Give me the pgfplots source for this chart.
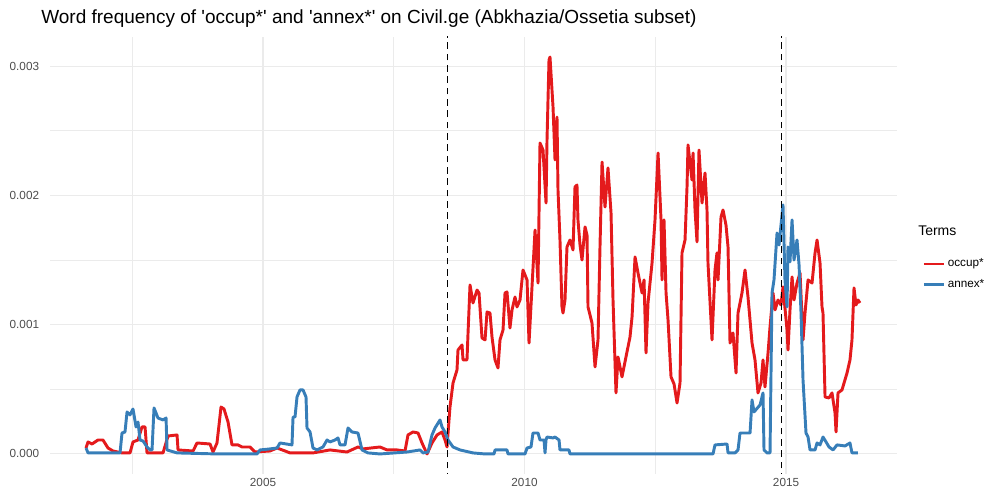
\documentclass[border=0pt]{standalone}
\usepackage{fontspec}
\setmainfont{Liberation Sans}[Ligatures=TeXOff]
\usepackage{pgfplots}
\pgfplotsset{compat=1.18}

\definecolor{occup}{HTML}{E41A1C}
\definecolor{annex}{HTML}{377EB8}
\definecolor{gridgrey}{HTML}{EBEBEB}
\definecolor{ticktext}{HTML}{4D4D4D}

\begin{document}
\begin{tikzpicture}[x=1pt,y=1pt]
% page = 999 x 495 px at 0.75pt per px, panel lower left at origin
\path[use as bounding box] (-37.5,-15.75) rectangle (711.75,355.5);
\begin{axis}[
    at={(0,0)}, anchor=south west,
    scale only axis,
    width=635.25pt, height=327.75pt,
    xmin=2000.927, xmax=2017.122,
    ymin=-0.000155, ymax=0.003225,
    xtick={2005,2010,2015},
    minor xtick={2002.5,2007.5,2012.5},
    ytick={0,0.001,0.002,0.003},
    minor ytick={0.0005,0.0015,0.0025},
    scaled y ticks=false,
    xticklabel style={/pgf/number format/1000 sep={}, inner sep=0pt, yshift=-3pt},
    yticklabel style={/pgf/number format/fixed, /pgf/number format/fixed zerofill,
        /pgf/number format/precision=3, inner sep=0pt, xshift=-8pt},
    /pgf/number format/assume math mode=true,
    ticklabel style={font=\fontsize{8.8}{10}\selectfont, text=ticktext},
    axis line style={draw=none},
    major tick length=0pt, minor tick length=0pt,
    grid=both,
    major grid style={gridgrey, line width=0.8pt},
    minor grid style={gridgrey, line width=0.45pt},
    clip=true,
    legend style={draw=none, fill=none, at={(rel axis cs:1.025,0.505)}, anchor=north west,
        font=\fontsize{8.8}{10}\selectfont, row sep=4pt,
        legend cell align=left},
    legend image code/.code={\draw[#1, line width=2pt] (0pt,0pt) -- (15pt,0pt);},
]
\addplot[occup, line width=2.2pt, line join=round] coordinates {
(2001.616,0.046e-3) (2001.654,0.093e-3) (2001.73,0.077e-3) (2001.845,0.108e-3) (2001.94,0.108e-3)
(2002.036,0.046e-3) (2002.132,0.023e-3) (2002.304,0.008e-3) (2002.457,0.008e-3) (2002.514,0.093e-3)
(2002.61,0.108e-3) (2002.686,0.209e-3) (2002.744,0.209e-3) (2002.782,0.008e-3) (2003.088,0.008e-3)
(2003.184,0.139e-3) (2003.356,0.147e-3) (2003.375,0.031e-3) (2003.662,0.023e-3) (2003.738,0.085e-3)
(2003.987,0.077e-3) (2004.044,0.015e-3) (2004.12,0.085e-3) (2004.197,0.363e-3) (2004.254,0.348e-3)
(2004.331,0.247e-3) (2004.407,0.07e-3) (2004.522,0.07e-3) (2004.598,0.054e-3) (2004.751,0.054e-3)
(2004.847,0.015e-3) (2005.134,0.023e-3) (2005.268,0.046e-3) (2005.421,0.023e-3) (2005.516,0.008e-3)
(2005.956,0.008e-3) (2006.281,0.031e-3) (2006.606,0.015e-3) (2006.816,0.054e-3) (2006.912,0.039e-3)
(2007.237,0.054e-3) (2007.371,0.031e-3) (2007.562,0.031e-3) (2007.715,0.023e-3) (2007.772,0.147e-3)
(2007.868,0.17e-3) (2007.964,0.162e-3) (2008.04,0.085e-3) (2008.136,0.0) (2008.231,0.085e-3)
(2008.327,0.147e-3) (2008.422,0.17e-3) (2008.48,0.108e-3) (2008.518,0.054e-3) (2008.575,0.363e-3)
(2008.633,0.549e-3) (2008.709,0.65e-3) (2008.728,0.804e-3) (2008.805,0.843e-3) (2008.824,0.727e-3)
(2008.9,0.727e-3) (2008.92,0.936e-3) (2008.958,1.307e-3) (2009.015,1.168e-3) (2009.092,1.268e-3)
(2009.13,1.245e-3) (2009.187,0.897e-3) (2009.245,0.882e-3) (2009.283,1.098e-3) (2009.34,1.09e-3)
(2009.378,0.905e-3) (2009.436,0.727e-3) (2009.493,0.665e-3) (2009.531,0.882e-3) (2009.589,0.959e-3)
(2009.627,1.245e-3) (2009.665,1.253e-3) (2009.722,0.974e-3) (2009.761,1.114e-3) (2009.818,1.214e-3)
(2009.856,1.137e-3) (2009.914,1.191e-3) (2009.971,1.423e-3) (2010.048,1.346e-3) (2010.086,0.858e-3)
(2010.143,1.292e-3) (2010.201,1.732e-3) (2010.258,1.322e-3) (2010.296,2.405e-3) (2010.354,2.351e-3)
(2010.411,1.941e-3) (2010.43,2.428e-3) (2010.468,3.047e-3) (2010.487,3.07e-3) (2010.545,2.684e-3)
(2010.583,2.274e-3) (2010.621,2.606e-3) (2010.64,2.042e-3) (2010.678,1.655e-3) (2010.716,1.137e-3)
(2010.736,1.09e-3) (2010.774,1.191e-3) (2010.812,1.601e-3) (2010.869,1.655e-3) (2010.927,1.578e-3)
(2010.965,2.065e-3) (2011.003,2.08e-3) (2011.022,1.81e-3) (2011.061,1.616e-3) (2011.099,1.5e-3)
(2011.157,1.756e-3) (2011.195,1.694e-3) (2011.214,1.137e-3) (2011.29,1.013e-3) (2011.348,0.673e-3)
(2011.405,0.882e-3) (2011.443,1.601e-3) (2011.482,2.258e-3) (2011.539,1.91e-3) (2011.596,2.212e-3)
(2011.654,1.864e-3) (2011.692,1.191e-3) (2011.749,0.472e-3) (2011.788,0.75e-3) (2011.864,0.596e-3)
(2011.94,0.75e-3) (2012.017,0.905e-3) (2012.056,1.06e-3) (2012.113,1.524e-3) (2012.17,1.4e-3)
(2012.247,1.245e-3) (2012.285,1.346e-3) (2012.323,0.781e-3) (2012.361,1.168e-3) (2012.438,1.477e-3)
(2012.495,1.81e-3) (2012.553,2.328e-3) (2012.61,1.81e-3) (2012.629,1.346e-3) (2012.667,1.81e-3)
(2012.706,1.245e-3) (2012.744,1.036e-3) (2012.801,0.596e-3) (2012.859,0.541e-3) (2012.916,0.394e-3)
(2012.973,0.549e-3) (2013.011,1.555e-3) (2013.069,1.655e-3) (2013.107,2.065e-3) (2013.126,2.39e-3)
(2013.202,2.119e-3) (2013.222,2.328e-3) (2013.26,1.887e-3) (2013.298,1.64e-3) (2013.336,2.351e-3)
(2013.394,1.941e-3) (2013.451,2.173e-3) (2013.489,1.887e-3) (2013.508,1.477e-3) (2013.585,0.882e-3)
(2013.642,1.423e-3) (2013.68,1.555e-3) (2013.7,1.346e-3) (2013.757,1.833e-3) (2013.795,1.887e-3)
(2013.852,1.771e-3) (2013.891,1.601e-3) (2013.929,0.858e-3) (2013.986,0.936e-3) (2014.044,0.626e-3)
(2014.082,1.09e-3) (2014.158,1.245e-3) (2014.216,1.423e-3) (2014.273,1.214e-3) (2014.35,0.858e-3)
(2014.407,0.727e-3) (2014.464,0.472e-3) (2014.522,0.549e-3) (2014.56,0.727e-3) (2014.598,0.518e-3)
(2014.656,0.781e-3) (2014.694,0.982e-3) (2014.751,1.245e-3) (2014.79,1.114e-3) (2014.847,1.191e-3)
(2014.904,1.152e-3) (2014.942,1.292e-3) (2015.019,0.959e-3) (2015.038,0.804e-3) (2015.076,1.114e-3)
(2015.115,1.369e-3) (2015.153,1.191e-3) (2015.21,1.322e-3) (2015.268,1.4e-3) (2015.325,0.882e-3)
(2015.363,1.09e-3) (2015.421,1.346e-3) (2015.497,1.322e-3) (2015.555,1.555e-3) (2015.593,1.655e-3)
(2015.65,1.477e-3) (2015.688,1.137e-3) (2015.707,1.09e-3) (2015.746,0.441e-3) (2015.822,0.433e-3)
(2015.879,0.472e-3) (2015.937,0.317e-3) (2015.956,0.17e-3) (2015.994,0.472e-3) (2016.07,0.495e-3)
(2016.166,0.626e-3) (2016.223,0.727e-3) (2016.261,0.882e-3) (2016.3,1.284e-3) (2016.338,1.152e-3)
(2016.376,1.191e-3) (2016.414,1.168e-3)
};
\addlegendentry{occup*}
\addplot[annex, line width=2.2pt, line join=round] coordinates {
(2001.616,0.046e-3) (2001.654,0.008e-3) (2002.266,0.008e-3) (2002.304,0.162e-3) (2002.361,0.17e-3)
(2002.4,0.325e-3) (2002.457,0.302e-3) (2002.514,0.348e-3) (2002.572,0.209e-3) (2002.61,0.247e-3)
(2002.648,0.108e-3) (2002.706,0.1e-3) (2002.782,0.054e-3) (2002.84,0.031e-3) (2002.878,0.031e-3)
(2002.916,0.356e-3) (2002.992,0.278e-3) (2003.088,0.263e-3) (2003.146,0.278e-3) (2003.165,0.031e-3)
(2003.356,0.008e-3) (2004.12,0.0) (2004.885,0.0) (2004.943,0.031e-3) (2005.134,0.039e-3)
(2005.268,0.046e-3) (2005.325,0.085e-3) (2005.554,0.07e-3) (2005.574,0.286e-3) (2005.612,0.286e-3)
(2005.65,0.441e-3) (2005.707,0.495e-3) (2005.765,0.495e-3) (2005.822,0.441e-3) (2005.841,0.201e-3)
(2005.899,0.17e-3) (2005.956,0.046e-3) (2006.032,0.031e-3) (2006.147,0.054e-3) (2006.224,0.108e-3)
(2006.281,0.093e-3) (2006.377,0.108e-3) (2006.434,0.124e-3) (2006.472,0.07e-3) (2006.568,0.07e-3)
(2006.625,0.201e-3) (2006.702,0.17e-3) (2006.816,0.162e-3) (2006.893,0.031e-3) (2007.008,0.008e-3)
(2007.237,0.0) (2007.753,0.015e-3) (2008.002,0.031e-3) (2008.059,0.008e-3) (2008.155,0.015e-3)
(2008.231,0.147e-3) (2008.289,0.201e-3) (2008.384,0.263e-3) (2008.422,0.209e-3) (2008.48,0.17e-3)
(2008.537,0.108e-3) (2008.633,0.054e-3) (2008.767,0.031e-3) (2009.015,0.008e-3) (2009.245,0.0)
(2009.417,0.0) (2009.436,0.031e-3) (2009.665,0.031e-3) (2009.684,0.0) (2010.01,0.0)
(2010.048,0.046e-3) (2010.124,0.054e-3) (2010.162,0.162e-3) (2010.258,0.162e-3) (2010.296,0.108e-3)
(2010.373,0.108e-3) (2010.392,0.008e-3) (2010.411,0.108e-3) (2010.43,0.131e-3) (2010.545,0.124e-3)
(2010.583,0.131e-3) (2010.66,0.108e-3) (2010.678,0.031e-3) (2010.85,0.031e-3) (2010.869,0.0)
(2013.604,0.0) (2013.642,0.07e-3) (2013.872,0.077e-3) (2013.891,0.008e-3) (2014.025,0.008e-3)
(2014.082,0.031e-3) (2014.12,0.162e-3) (2014.312,0.162e-3) (2014.35,0.418e-3) (2014.388,0.325e-3)
(2014.503,0.379e-3) (2014.56,0.472e-3) (2014.579,0.031e-3) (2014.637,0.008e-3) (2014.694,0.008e-3)
(2014.732,1.245e-3) (2014.77,1.346e-3) (2014.828,1.709e-3) (2014.866,1.616e-3) (2014.904,1.771e-3)
(2014.942,1.926e-3) (2014.98,1.346e-3) (2015.019,1.137e-3) (2015.038,1.601e-3) (2015.076,1.485e-3)
(2015.115,1.81e-3) (2015.153,1.5e-3) (2015.21,1.655e-3) (2015.249,1.462e-3) (2015.287,1.09e-3)
(2015.325,0.572e-3) (2015.382,0.162e-3) (2015.421,0.131e-3) (2015.459,0.031e-3) (2015.555,0.031e-3)
(2015.593,0.085e-3) (2015.65,0.07e-3) (2015.707,0.131e-3) (2015.765,0.093e-3) (2015.822,0.054e-3)
(2015.899,0.031e-3) (2015.975,0.07e-3) (2016.128,0.062e-3) (2016.223,0.085e-3) (2016.261,0.008e-3)
(2016.376,0.008e-3)
};
\addlegendentry{annex*}
% event markers
\addplot[black, line width=0.8pt, dash pattern=on 5pt off 3.5pt, forget plot] coordinates {(2008.52,-0.0002) (2008.52,0.0033)};
\addplot[black, line width=0.8pt, dash pattern=on 5pt off 3.5pt, forget plot] coordinates {(2014.92,-0.0002) (2014.92,0.0033)};
\end{axis}
% title and legend heading
\node[anchor=base west, font=\fontsize{14.25}{16}\selectfont, inner sep=0pt] at (-6.75,337.5)
    {Word frequency of 'occup*' and 'annex*' on Civil.ge (Abkhazia/Ossetia subset)};
\node[anchor=base west, font=\fontsize{10.5}{12}\selectfont, inner sep=0pt] at (651,178.5) {Terms};
\end{tikzpicture}
\end{document}
